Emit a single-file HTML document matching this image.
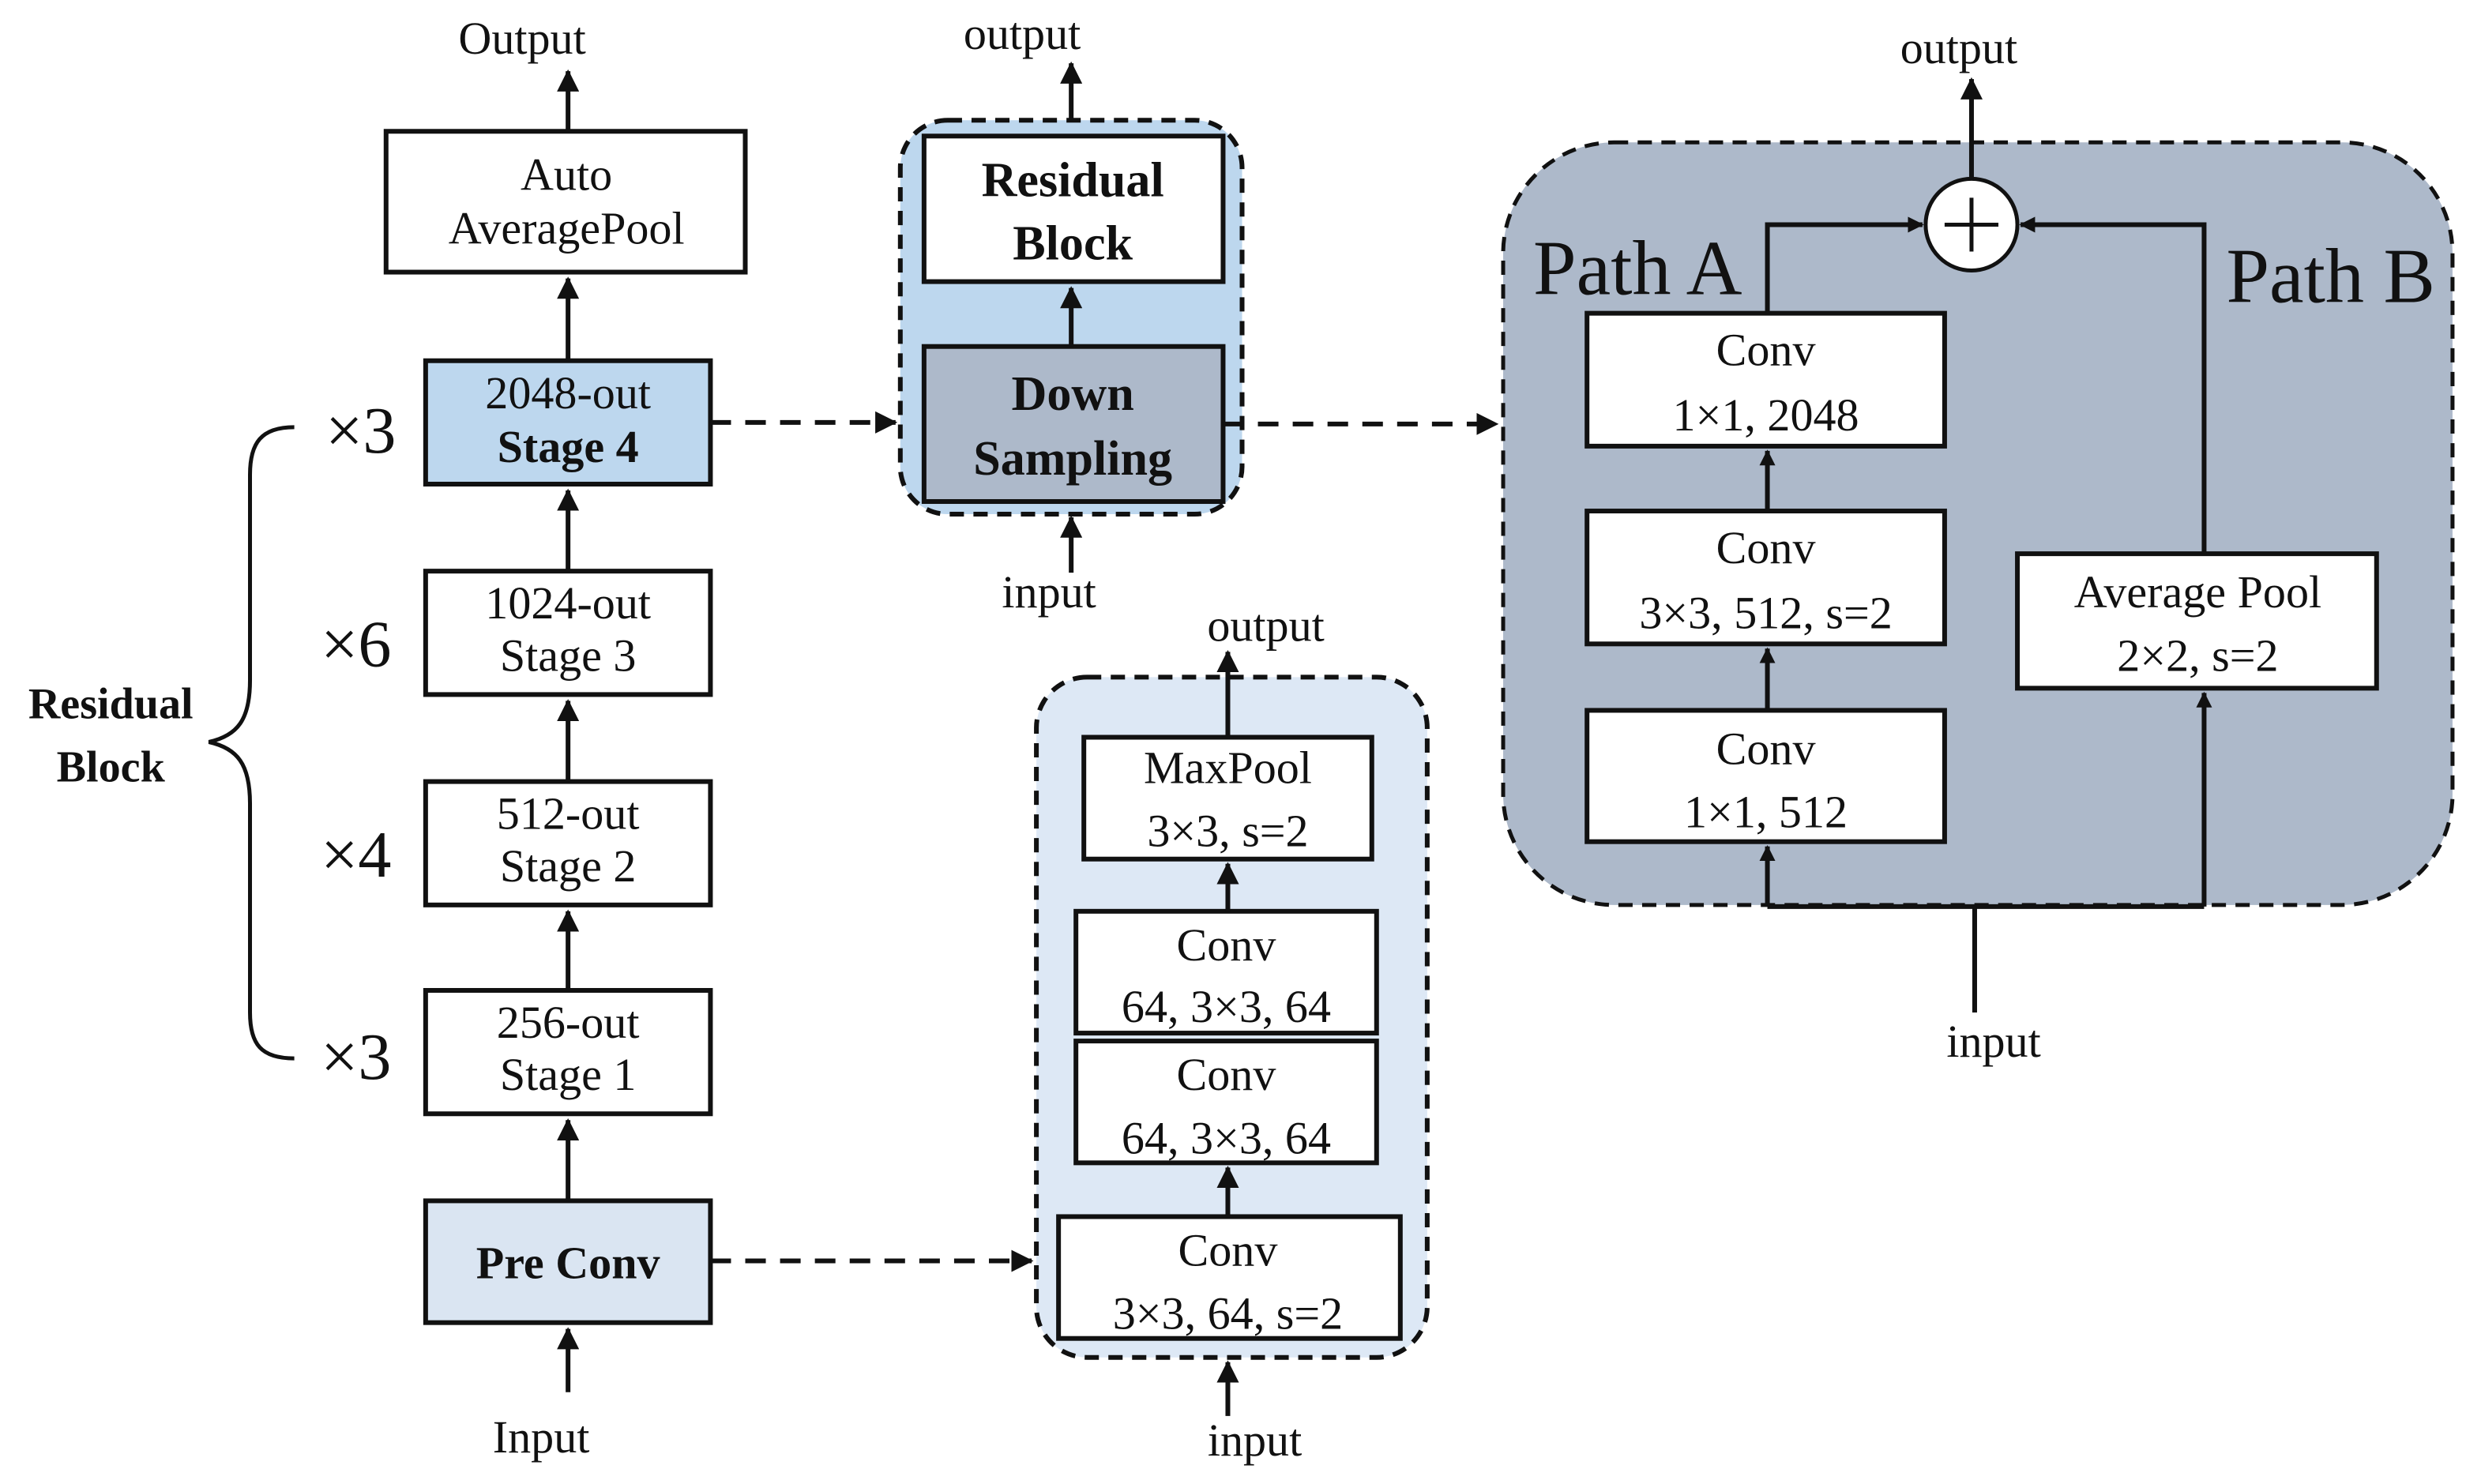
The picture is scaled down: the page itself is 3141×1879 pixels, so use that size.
<!DOCTYPE html>
<html><head><meta charset="utf-8"><style>
html,body{margin:0;padding:0;background:#fff;}
svg{display:block;}
text{font-family:"Liberation Serif",serif;fill:#111;}
.b{font-weight:bold;}
</style></head><body>
<svg width="3141" height="1879" viewBox="0 0 1568 938" xmlns="http://www.w3.org/2000/svg">
<defs>
<marker id="a" viewBox="0 0 12 12" refX="11" refY="6" markerWidth="14" markerHeight="14" orient="auto" markerUnits="userSpaceOnUse"><path d="M0,0 L12,6 L0,12 z" fill="#111"/></marker>
<marker id="as" viewBox="0 0 12 12" refX="11" refY="6" markerWidth="10" markerHeight="10" orient="auto" markerUnits="userSpaceOnUse"><path d="M0,0 L12,6 L0,12 z" fill="#111"/></marker>
</defs>
<g stroke="#111" stroke-width="3" fill="none">
<rect x="569" y="76" width="216" height="249" rx="30" fill="#bdd7ee" stroke-dasharray="9,6"/>
<rect x="950" y="90" width="600" height="482" rx="70" fill="#adb9ca" stroke-dasharray="9,6" stroke-width="2.5"/>
<rect x="655" y="428" width="247" height="430" rx="32" fill="#dde8f5" stroke-dasharray="9,6"/>
<rect x="244" y="83" width="227" height="89" fill="#fff"/>
<rect x="269" y="228" width="180" height="78" fill="#bdd7ee"/>
<rect x="269" y="361" width="180" height="78" fill="#fff"/>
<rect x="269" y="494" width="180" height="78" fill="#fff"/>
<rect x="269" y="626" width="180" height="78" fill="#fff"/>
<rect x="269" y="759" width="180" height="77" fill="#dae5f2"/>
<rect x="584" y="86" width="189" height="92" fill="#fff"/>
<rect x="584" y="219" width="189" height="98" fill="#adb9ca"/>
<rect x="1003" y="198" width="226" height="84" fill="#fff"/>
<rect x="1003" y="323" width="226" height="84" fill="#fff"/>
<rect x="1003" y="449" width="226" height="83" fill="#fff"/>
<rect x="1275" y="350" width="227" height="85" fill="#fff"/>
<circle cx="1246" cy="142" r="29" fill="#fff" stroke-width="2.5"/>
<rect x="685" y="466" width="182" height="77" fill="#fff"/>
<rect x="680" y="576" width="190" height="77" fill="#fff"/>
<rect x="680" y="658" width="190" height="77" fill="#fff"/>
<rect x="669" y="769" width="216" height="77" fill="#fff"/>
<path d="M359 82 V45" marker-end="url(#a)"/>
<path d="M359 228 V176" marker-end="url(#a)"/>
<path d="M359 361 V310" marker-end="url(#a)"/>
<path d="M359 494 V443" marker-end="url(#a)"/>
<path d="M359 626 V576" marker-end="url(#a)"/>
<path d="M359 759 V708" marker-end="url(#a)"/>
<path d="M359 880 V840" marker-end="url(#a)"/>
<path d="M186 270 C165 270 158 280 158 300 V430 C158 455 150 465 132 469 C150 473 158 483 158 508 V640 C158 660 165 669 186 669" stroke-width="2.5"/>
<path d="M449 267 H566" stroke-dasharray="13,9" marker-end="url(#a)"/>
<path d="M773 268 H946" stroke-dasharray="13,9" marker-end="url(#a)"/>
<path d="M449 797 H652" stroke-dasharray="13,9" marker-end="url(#a)"/>
<path d="M677 76 V40" marker-end="url(#a)"/>
<path d="M677 219 V182" marker-end="url(#a)"/>
<path d="M677 362 V327" marker-end="url(#a)"/>
<path d="M1246 113 V50" marker-end="url(#a)"/>
<path d="M1117 198 V142 H1215" marker-end="url(#as)"/>
<path d="M1393 350 V142 H1277" marker-end="url(#as)"/>
<path d="M1117 323 V285" marker-end="url(#as)"/>
<path d="M1117 449 V410" marker-end="url(#as)"/>
<path d="M1117 573 H1393"/>
<path d="M1117 573 V535" marker-end="url(#as)"/>
<path d="M1393 573 V438" marker-end="url(#as)"/>
<path d="M1248 640 V573"/>
<path d="M776 466 V412" marker-end="url(#a)"/>
<path d="M776 576 V546" marker-end="url(#a)"/>
<path d="M776 769 V738" marker-end="url(#a)"/>
<path d="M776 895 V861" marker-end="url(#a)"/>
</g>
<path d="M1246 125 V159 M1229 142 H1263" stroke="#111" stroke-width="2.5"/>
<g font-size="29" text-anchor="middle">
<text x="330" y="34">Output</text>
<text x="358" y="120">Auto</text>
<text x="358" y="154">AveragePool</text>
<text x="359" y="258">2048-out</text>
<text x="359" y="292" class="b">Stage 4</text>
<text x="359" y="391">1024-out</text>
<text x="359" y="424">Stage 3</text>
<text x="359" y="524">512-out</text>
<text x="359" y="557">Stage 2</text>
<text x="359" y="656">256-out</text>
<text x="359" y="689">Stage 1</text>
<text x="359" y="808" class="b">Pre Conv</text>
<text x="342" y="918">Input</text>
<text x="70" y="454" class="b" font-size="28">Residual</text>
<text x="70" y="494" class="b" font-size="28">Block</text>
<text x="228" y="286" font-size="42">×3</text>
<text x="225" y="421" font-size="42">×6</text>
<text x="225" y="554" font-size="42">×4</text>
<text x="225" y="682" font-size="42">×3</text>
<text x="646" y="31">output</text>
<text x="678" y="124" class="b" font-size="31">Residual</text>
<text x="678" y="164" class="b" font-size="31">Block</text>
<text x="678" y="259" class="b" font-size="31">Down</text>
<text x="678" y="300" class="b" font-size="31">Sampling</text>
<text x="663" y="384">input</text>
<text x="1238" y="40">output</text>
<text x="1035" y="186" font-size="49">Path A</text>
<text x="1473" y="191" font-size="49">Path B</text>
<text x="1116" y="231">Conv</text>
<text x="1116" y="272">1×1, 2048</text>
<text x="1116" y="356">Conv</text>
<text x="1116" y="397">3×3, 512, s=2</text>
<text x="1116" y="483">Conv</text>
<text x="1116" y="523">1×1, 512</text>
<text x="1389" y="384">Average Pool</text>
<text x="1389" y="424">2×2, s=2</text>
<text x="1260" y="668">input</text>
<text x="800" y="405">output</text>
<text x="776" y="495">MaxPool</text>
<text x="776" y="535">3×3, s=2</text>
<text x="775" y="607">Conv</text>
<text x="775" y="646">64, 3×3, 64</text>
<text x="775" y="689">Conv</text>
<text x="775" y="729">64, 3×3, 64</text>
<text x="776" y="800">Conv</text>
<text x="776" y="840">3×3, 64,  s=2</text>
<text x="793" y="920">input</text>
</g>
</svg>
</body></html>
